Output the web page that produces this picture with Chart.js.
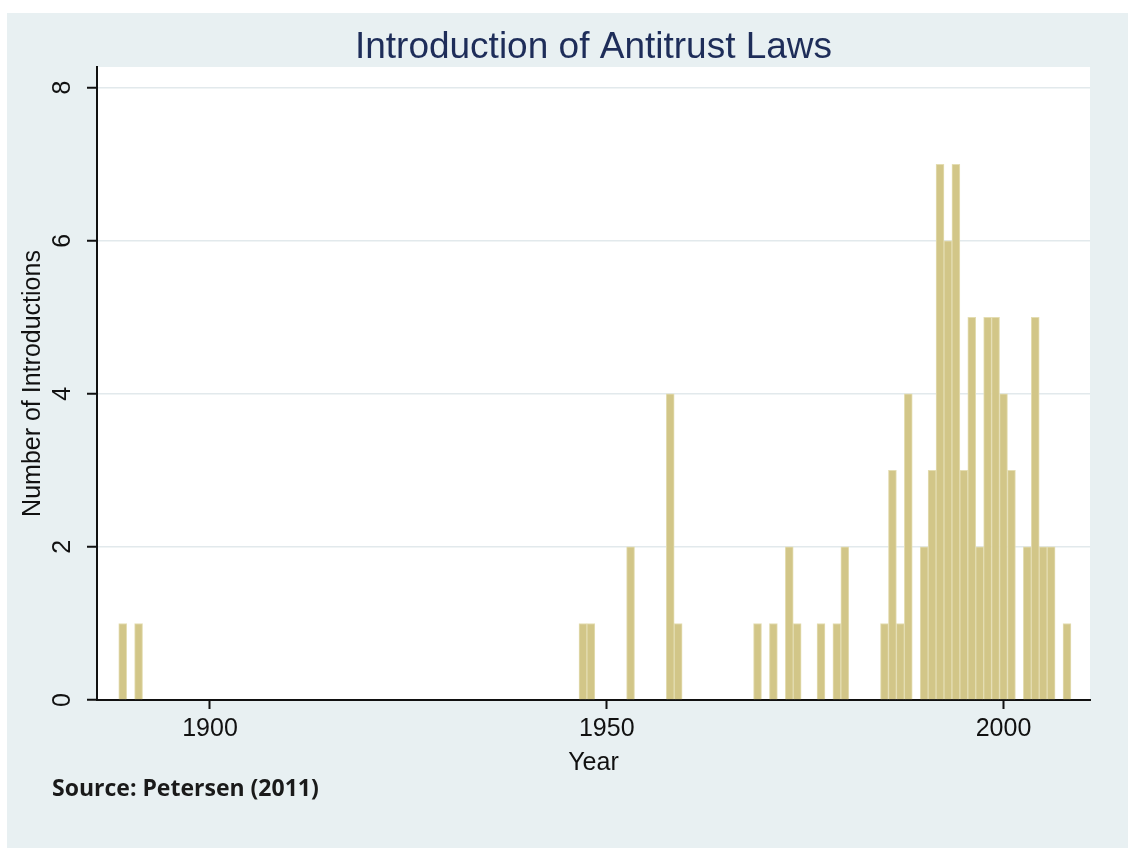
<!DOCTYPE html>
<html>
<head>
<meta charset="utf-8">
<script src="https://cdn.jsdelivr.net/npm/chart.js@4.4.1/dist/chart.umd.min.js"></script>
<style>
  html, body { margin: 0; padding: 0; background: #ffffff; }
  canvas { display: block; }
</style>
</head>
<body>
<canvas id="c" width="1128" height="848"></canvas>
<script>
// ---- data ----
const years  = [1889, 1891, 1947, 1948, 1953, 1958, 1959, 1969, 1971, 1973, 1974, 1977, 1979, 1980,
                1985, 1986, 1987, 1988, 1990, 1991, 1992, 1993, 1994, 1995, 1996, 1997, 1998, 1999,
                2000, 2001, 2003, 2004, 2005, 2006, 2008];
const counts = [1, 1, 1, 1, 2, 4, 1, 1, 1, 2, 1, 1, 1, 2,
                1, 3, 1, 4, 2, 3, 7, 6, 7, 3, 5, 2, 5, 5,
                4, 3, 2, 5, 2, 2, 1];
const xTickYears  = [1900, 1950, 2000];
const yTickValues = [0, 2, 4, 6, 8];
const titleText  = 'Introduction of Antitrust Laws';
const xTitleText = 'Year';
const yTitleText = 'Number of Introductions';
const sourceText = 'Source: Petersen (2011)';

const FONT = '"Liberation Sans", Arial, sans-serif';

const decorPlugin = {
  id: 'decor',
  beforeDraw(chart) {
    const ctx = chart.ctx, a = chart.chartArea;
    ctx.save();
    ctx.fillStyle = '#ffffff';
    ctx.fillRect(0, 0, chart.width, chart.height);
    ctx.fillStyle = '#e8f0f2';
    ctx.fillRect(7, 13, chart.width - 7, chart.height - 13);
    ctx.fillStyle = '#ffffff';
    ctx.fillRect(a.left, a.top, a.right - a.left, a.bottom - a.top);
    ctx.restore();
  },
  afterDraw(chart) {
    const ctx = chart.ctx, a = chart.chartArea;
    const xs = chart.scales.x, ys = chart.scales.y;
    const cx = (a.left + a.right) / 2;
    ctx.save();
    // title
    ctx.fillStyle = '#1e2d59';
    ctx.font = '37px ' + FONT;
    ctx.textAlign = 'center';
    ctx.textBaseline = 'alphabetic';
    ctx.fillText(titleText, cx, 58);
    // x tick labels
    ctx.fillStyle = '#111111';
    ctx.font = '25px ' + FONT;
    xTickYears.forEach(v => ctx.fillText(String(v), xs.getPixelForValue(v), 736));
    // x title
    ctx.fillText(xTitleText, cx, 770);
    // y tick labels (rotated)
    yTickValues.forEach(v => {
      ctx.save();
      ctx.translate(63, ys.getPixelForValue(v));
      ctx.rotate(-Math.PI / 2);
      ctx.textBaseline = 'middle';
      ctx.fillText(String(v), 0, 0);
      ctx.restore();
    });
    // y title
    ctx.save();
    ctx.translate(33, (a.top + a.bottom) / 2);
    ctx.rotate(-Math.PI / 2);
    ctx.textBaseline = 'middle';
    ctx.fillText(yTitleText, 0, 0);
    ctx.restore();
    // source
    ctx.textAlign = 'left';
    ctx.textBaseline = 'alphabetic';
    ctx.fillStyle = '#1a1a1a';
    ctx.font = 'bold 23px "Open Sans", "Noto Sans", sans-serif';
    ctx.fillText(sourceText, 52, 796);
    ctx.restore();
  }
};

new Chart(document.getElementById('c'), {
  type: 'bar',
  data: {
    datasets: [{
      data: years.map((y, i) => ({ x: y, y: counts[i] })),
      backgroundColor: '#d2c688',
      borderColor: '#e4ddb2',
      borderWidth: 1,
      borderSkipped: 'bottom',
      barPercentage: 1,
      categoryPercentage: 1
    }]
  },
  options: {
    responsive: false,
    animation: false,
    events: [],
    layout: { padding: { left: 7, top: 67, right: 38, bottom: 0 } },
    plugins: { legend: { display: false }, tooltip: { enabled: false }, title: { display: false } },
    scales: {
      x: {
        type: 'linear',
        min: 1885.76,
        max: 2010.9,
        offset: false,
        afterBuildTicks: s => { s.ticks = xTickYears.map(v => ({ value: v })); },
        afterFit: s => { s.height = 148; },
        ticks: { display: false },
        grid: { offset: false, drawOnChartArea: false, drawTicks: true, tickLength: 9, tickColor: '#111111', tickWidth: 2 },
        border: { display: true, color: '#111111', width: 2 }
      },
      y: {
        type: 'linear',
        min: 0,
        max: 8.27,
        afterBuildTicks: s => { s.ticks = yTickValues.map(v => ({ value: v })); },
        afterFit: s => { s.width = 90; },
        ticks: { display: false },
        grid: {
          color: c => (c.tick && c.tick.value === 0) ? 'rgba(0,0,0,0)' : '#e2e9ec',
          lineWidth: 1.5,
          drawTicks: true, tickLength: 10, tickColor: '#111111', tickWidth: 2
        },
        border: { display: true, color: '#111111', width: 2 }
      }
    }
  },
  plugins: [decorPlugin]
});
</script>
</body>
</html>
